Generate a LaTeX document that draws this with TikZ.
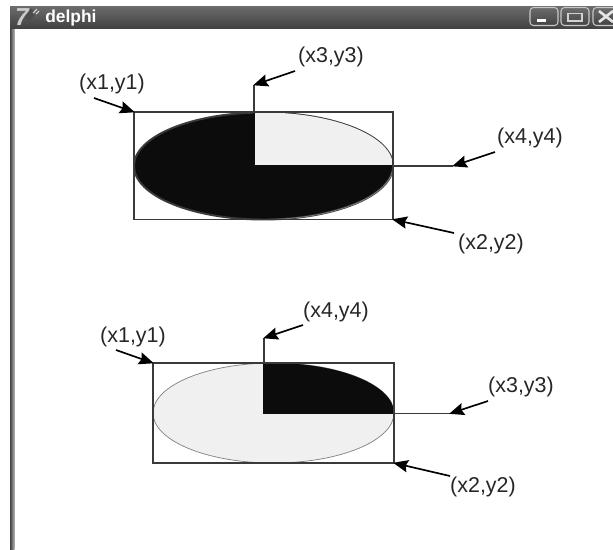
\documentclass[tikz,border=0pt]{standalone}
\usepackage{fontspec}
\setmainfont{Liberation Sans}
\usetikzlibrary{arrows.meta}
\definecolor{barlight}{RGB}{108,108,108}
\definecolor{bardark}{RGB}{66,66,66}
\definecolor{inkdark}{RGB}{12,12,12}
\definecolor{linegray}{RGB}{58,58,58}
\definecolor{palefill}{RGB}{240,240,240}
\tikzset{
  boxline/.style={draw=linegray, line width=0.7pt},
  pointer/.style={-{Stealth[length=8.5pt,width=7pt,inset=1.2pt]}, black, line width=0.95pt, shorten >=-0.5pt},
  coordlabel/.style={font=\fontsize{12.2}{14}\selectfont, text=black!85, inner sep=0pt},
  winbutton/.style={draw=white!78!black, rounded corners=2pt, line width=0.6pt, top color=barlight, bottom color=bardark}
}

\begin{document}
\begin{tikzpicture}[x=0.02cm, y=-0.02cm]
    \useasboundingbox (0,0) rectangle (613,549);
    % window frame
    \fill[white] (0,0) rectangle (613,549);
    \fill[left color=bardark, right color=white!70!black] (10,28) rectangle (14.5,549);
    \fill[top color=barlight, bottom color=bardark] (10,6) rectangle (613,28);

    \fill[black!70] (29,14) circle [x radius=5, y radius=6];
    \draw[white!85!black, line width=0.6pt] (33,13) -- (37,9) (36,14) -- (39,11);
    \node[font=\bfseries\itshape\fontsize{14}{14}\selectfont, text=white!80!black, inner sep=0pt] (icon) at (22,17) {7};
    \node[font=\bfseries\fontsize{9.9}{10}\selectfont, text=white, inner sep=0pt, anchor=west] (title) at (45,17.5) {delphi};

    \begin{scope}
    \clip (0,0) rectangle (613,549);
    \draw[winbutton] (530,7.5) rectangle (558,25.5);
    \draw[winbutton] (561,7.5) rectangle (589,25.5);
    \draw[winbutton] (593,7.5) rectangle (625,25.5);
    \end{scope}
    \fill[white] (537,19) rectangle (546,21.5);
    \draw[white!82!black, line width=0.9pt] (568,13.5) rectangle (582,21);
    \draw[white!90!black, line width=1.5pt] (599,11) -- (613,22) (613,11) -- (599,22);

    % upper figure
    \coordinate (tl1) at (134,112);
    \coordinate (br1) at (393,219.5);
    \coordinate (mid1) at (254,166);
    \coordinate (east1) at (393,166);
    \coordinate (north1) at (254,112);
    \coordinate (rise1) at (254,85);
    \coordinate (run1) at (453,166);
    \coordinate (centre1) at (263.5,166);

    \fill[inkdark, draw=linegray, line width=1.1pt] (centre1) ellipse [x radius=129.5, y radius=53.5];
    \begin{scope}
    \clip (centre1) ellipse [x radius=129.5, y radius=53.5];
    \fill[palefill] (mid1) rectangle (393,111);
    \end{scope}
    \draw[gray, line width=0.4pt] (east1) arc [start angle=0, end angle=-94, x radius=129.5, y radius=-53.5];
    \draw[inkdark, line width=1pt] (north1) -- (mid1) -- (east1);
    \draw[boxline] (tl1) rectangle (br1);
    \draw[boxline] (north1) -- (rise1);
    \draw[boxline] (east1) -- (run1);

    \node[coordlabel] (a1) at (112,84) {(x1,y1)};
    \node[coordlabel] (a3) at (331,57) {(x3,y3)};
    \node[coordlabel] (a4) at (530,138) {(x4,y4)};
    \node[coordlabel] (a2) at (491,244) {(x2,y2)};
    \coordinate (t1) at (94,98);
    \coordinate (t3) at (295,71);
    \coordinate (t4) at (495,152);
    \coordinate (t2) at (454,233);
    \draw[pointer] (t1) -- (tl1);
    \draw[pointer] (t3) -- (rise1);
    \draw[pointer] (t4) -- (run1);
    \draw[pointer] (t2) -- (br1);

    % lower figure
    \coordinate (tl2) at (153,363);
    \coordinate (br2) at (394,463);
    \coordinate (mid2) at (264,413.5);
    \coordinate (east2) at (394,413.5);
    \coordinate (north2) at (264,363);
    \coordinate (rise2) at (264,338);
    \coordinate (run2) at (450,413.5);
    \coordinate (centre2) at (273.5,413);

    \fill[palefill, draw=gray, line width=0.4pt] (centre2) ellipse [x radius=120.5, y radius=50];
    \begin{scope}
    \clip (centre2) ellipse [x radius=120.5, y radius=50];
    \fill[inkdark] (mid2) rectangle (394,362);
    \end{scope}
    \draw[inkdark, line width=0.8pt] (north2) -- (mid2) -- (east2);
    \draw[boxline] (tl2) rectangle (br2);
    \draw[boxline] (north2) -- (rise2);
    \draw[boxline] (east2) -- (run2);

    \node[coordlabel] (b1) at (133,337) {(x1,y1)};
    \node[coordlabel] (b4) at (336,312) {(x4,y4)};
    \node[coordlabel] (b3) at (521,387) {(x3,y3)};
    \node[coordlabel] (b2) at (483,487) {(x2,y2)};
    \coordinate (u1) at (116,350);
    \coordinate (u4) at (303,325);
    \coordinate (u3) at (488,401);
    \coordinate (u2) at (450,476);
    \draw[pointer] (u1) -- (tl2);
    \draw[pointer] (u4) -- (rise2);
    \draw[pointer] (u3) -- (run2);
    \draw[pointer] (u2) -- (br2);
\end{tikzpicture}
\end{document}
